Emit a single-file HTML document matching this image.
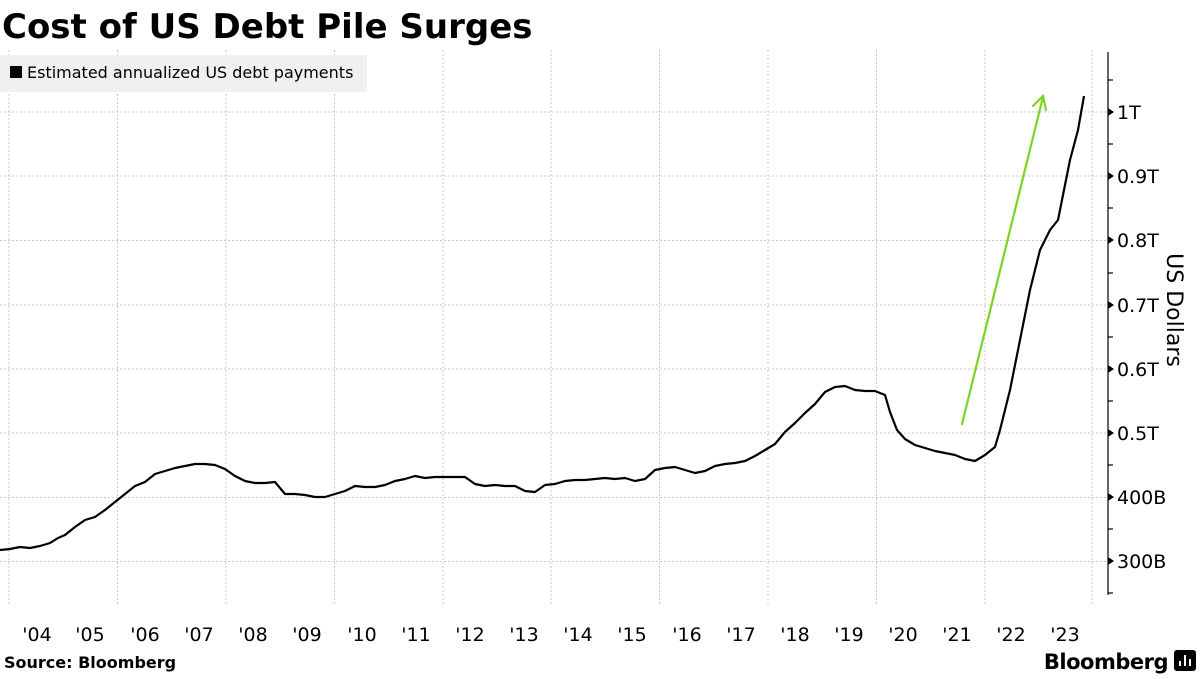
<!DOCTYPE html>
<html><head><meta charset="utf-8"><style>
body{margin:0;width:1200px;height:675px;background:#fff;overflow:hidden;font-family:"DejaVu Sans","Liberation Sans",sans-serif;}
</style></head><body>
<svg width="1200" height="675" viewBox="0 0 1200 675" xmlns="http://www.w3.org/2000/svg">
<text x="2" y="38" font-family="DejaVu Sans, sans-serif" font-weight="bold" font-size="34" fill="#000">Cost of US Debt Pile Surges</text>
<g stroke="#c8c8c8" stroke-width="1" stroke-dasharray="2,2">
<line x1="9" y1="50" x2="9" y2="604"/><line x1="117.5" y1="50" x2="117.5" y2="604"/><line x1="226" y1="50" x2="226" y2="604"/><line x1="334.5" y1="50" x2="334.5" y2="604"/><line x1="443" y1="50" x2="443" y2="604"/><line x1="551" y1="50" x2="551" y2="604"/><line x1="659.5" y1="50" x2="659.5" y2="604"/><line x1="768" y1="50" x2="768" y2="604"/><line x1="876.5" y1="50" x2="876.5" y2="604"/><line x1="985" y1="50" x2="985" y2="604"/><line x1="1092" y1="50" x2="1092" y2="604"/>
<line x1="0" y1="112" x2="1108" y2="112"/><line x1="0" y1="176" x2="1108" y2="176"/><line x1="0" y1="240.5" x2="1108" y2="240.5"/><line x1="0" y1="305" x2="1108" y2="305"/><line x1="0" y1="369" x2="1108" y2="369"/><line x1="0" y1="433" x2="1108" y2="433"/><line x1="0" y1="497.5" x2="1108" y2="497.5"/><line x1="0" y1="561.5" x2="1108" y2="561.5"/>
</g>
<rect x="0" y="55" width="367" height="37" fill="#f0f0f0"/>
<rect x="10" y="66" width="12" height="12" fill="#000"/>
<text x="27" y="78" font-size="16" fill="#000">Estimated annualized US debt payments</text>
<line x1="1108" y1="52" x2="1108" y2="595" stroke="#000" stroke-width="1.2"/>
<g stroke="#000" stroke-width="1.2">
<line x1="1108" y1="80" x2="1113" y2="80"/><line x1="1108" y1="144" x2="1113" y2="144"/><line x1="1108" y1="208" x2="1113" y2="208"/><line x1="1108" y1="273" x2="1113" y2="273"/><line x1="1108" y1="337" x2="1113" y2="337"/><line x1="1108" y1="401" x2="1113" y2="401"/><line x1="1108" y1="465" x2="1113" y2="465"/><line x1="1108" y1="529" x2="1113" y2="529"/><line x1="1108" y1="593" x2="1113" y2="593"/>
</g>
<g fill="#000"><polygon points="1108,108 1114,112 1108,116"/><polygon points="1108,172 1114,176 1108,180"/><polygon points="1108,236 1114,240 1108,244"/><polygon points="1108,301 1114,305 1108,309"/><polygon points="1108,365 1114,369 1108,373"/><polygon points="1108,429 1114,433 1108,437"/><polygon points="1108,493 1114,497 1108,501"/><polygon points="1108,557 1114,561 1108,565"/></g>
<g font-size="19" fill="#000">
<text x="1117" y="119">1T</text><text x="1117" y="183">0.9T</text><text x="1117" y="247">0.8T</text><text x="1117" y="312">0.7T</text><text x="1117" y="376">0.6T</text><text x="1117" y="440">0.5T</text><text x="1117" y="504">400B</text><text x="1117" y="568">300B</text>
</g>
<text transform="translate(1167,310) rotate(90)" text-anchor="middle" font-size="22" fill="#000">US Dollars</text>
<g font-size="19" fill="#000" text-anchor="middle">
<text x="37" y="641">'04</text><text x="90" y="641">'05</text><text x="145" y="641">'06</text><text x="199" y="641">'07</text><text x="253" y="641">'08</text><text x="307" y="641">'09</text><text x="362" y="641">'10</text><text x="416" y="641">'11</text><text x="470" y="641">'12</text><text x="524" y="641">'13</text><text x="578" y="641">'14</text><text x="632" y="641">'15</text><text x="687" y="641">'16</text><text x="741" y="641">'17</text><text x="795" y="641">'18</text><text x="849" y="641">'19</text><text x="903" y="641">'20</text><text x="957" y="641">'21</text><text x="1011" y="641">'22</text><text x="1065" y="641">'23</text>
</g>
<polyline fill="none" stroke="#000" stroke-width="2.2" stroke-linejoin="round" points="0,550 10,549 20,547 30,548 40,546 50,543 58,538 65,535 75,527 85,520 95,517 105,510 115,502 125,494 135,486 145,482 155,474 165,471 175,468 185,466 195,464 205,464 215,465 225,469 235,476 245,481 255,483 265,483 275,482 285,494 295,494 305,495 315,497 325,497 335,494 345,491 355,486 365,487 375,487 385,485 395,481 405,479 415,476 425,478 435,477 445,477 455,477 465,477 475,484 485,486 495,485 505,486 515,486 525,491 535,492 545,485 555,484 565,481 575,480 585,480 595,479 605,478 615,479 625,478 635,481 645,479 655,470 665,468 675,467 685,470 695,473 705,471 715,466 725,464 735,463 745,461 755,456 765,450 775,444 785,432 795,423 805,413 815,404 825,392 835,387 845,386 855,390 865,391 875,391 885,395 890,412 897,430 905,439 915,445 925,448 935,451 945,453 955,455 965,459 975,461 985,455 995,447 1000,430 1010,390 1020,340 1030,290 1040,250 1050,230 1058,220 1063,195 1070,160 1078,130 1084,96"/>
<g stroke="#7ed321" stroke-width="2.2" fill="none" stroke-linecap="round">
<line x1="962" y1="424" x2="1043" y2="97"/>
<polyline points="1033,106 1043,96 1046,110"/>
</g>
<text x="4" y="668" font-size="16" font-weight="bold" fill="#000">Source: Bloomberg</text>
<text x="1168" y="669" text-anchor="end" font-size="21" font-weight="bold" fill="#000" letter-spacing="-0.5">Bloomberg</text>
<rect x="1174" y="650" width="22" height="21" rx="3" fill="#000"/>
<g stroke="#fff" stroke-width="2"><line x1="1180" y1="666" x2="1180" y2="661"/><line x1="1185" y1="666" x2="1185" y2="655"/><line x1="1190" y1="666" x2="1190" y2="659"/></g>
</svg>
</body></html>
